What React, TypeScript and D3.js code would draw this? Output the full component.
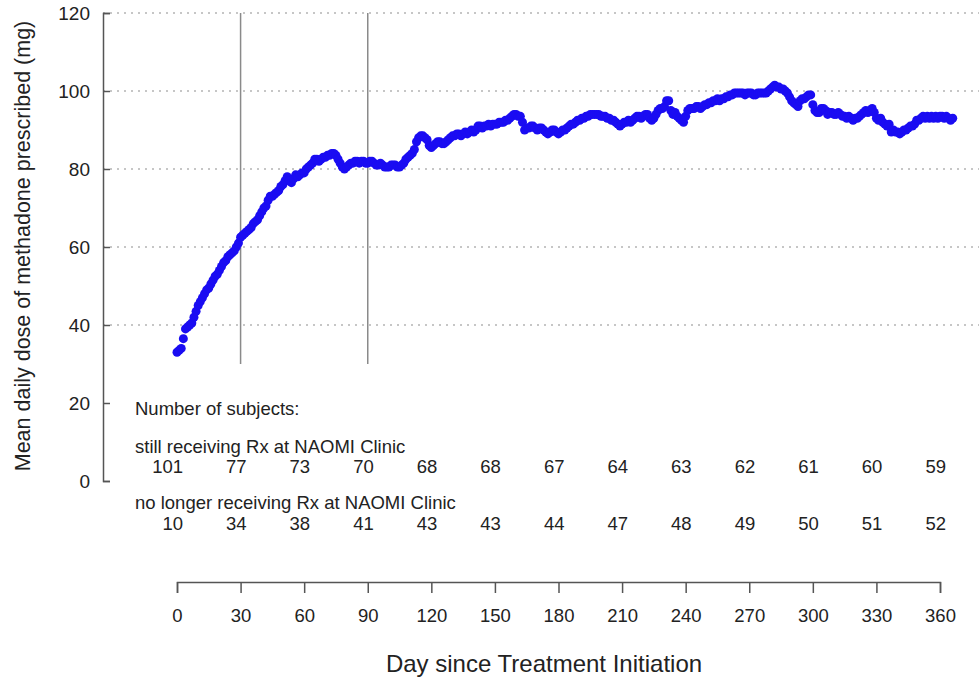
import React, { useEffect, useRef } from "react";
import * as d3 from "d3";

// mean daily methadone dose (mg), one value per day from day 0
const meanDose = [
  33, 33.5, 34, 36.5, 39, 39.5, 40, 40.5, 42, 43.5,
  45, 46, 47, 48, 49, 49.5, 50.5, 51.5, 52.5, 53,
  54, 55, 56, 56.5, 57.5, 58, 58.5, 59, 60, 61,
  62.5, 63, 63.5, 64, 64.5, 65, 66, 66.5, 67, 68,
  69, 70, 70.5, 72, 73, 73, 73.5, 74, 74.5, 75.5,
  76, 77, 78, 77, 76.5, 77.5, 78.5, 78, 78.5, 79,
  79, 80, 80.5, 81, 81.5, 82.5, 82.5, 82, 82.5, 83,
  83, 83.5, 83.5, 84, 84, 83.5, 82.5, 81.5, 80.5, 80,
  80.5, 81, 81.5, 81.5, 82, 82, 81.5, 82, 82, 81.5,
  81.5, 82, 82, 81.5, 81, 81, 81.5, 81, 80.5, 80.5,
  80.5, 81, 81, 81, 80.5, 80.5, 81, 81.5, 82.5, 83,
  83.5, 84, 85, 87, 88, 88.5, 88.5, 88, 87.5, 86,
  85.5, 86, 86.5, 87, 87, 86.5, 86.5, 87, 87.5, 88,
  88.5, 88.5, 89, 89, 88.5, 89, 89.5, 89, 89.5, 90,
  89.5, 90, 91, 91, 90.5, 91, 91, 91.5, 91, 91.5,
  91.5, 91.5, 92, 92, 92, 92.5, 92.5, 93, 93.5, 94,
  94, 93.5, 93.5, 92, 90, 90.5, 90.5, 91, 91, 90.5,
  90, 90.5, 90.5, 90, 89.5, 89, 89.5, 90, 90, 89.5,
  89, 89.5, 90, 90, 90.5, 91, 91.5, 91.5, 92, 92.5,
  92.5, 93, 93, 93.5, 93.5, 94, 94, 94, 94, 94,
  93.5, 93.5, 93.5, 93, 93, 92.5, 92.5, 92, 91.5, 91,
  91.5, 92, 92, 92.5, 92, 92.5, 93, 93.5, 93.5, 93,
  93.5, 94, 94, 93, 92.5, 93, 94, 95, 95.5, 95.5,
  96, 97.5, 97.5, 95, 94, 94.5, 93.5, 93, 92.5, 92,
  93.5, 95, 95.5, 95.5, 95.5, 96, 96, 95.5, 96, 96.5,
  96.5, 97, 97, 97.5, 97.5, 98, 97.5, 98, 98, 98.5,
  98.5, 99, 99, 99.5, 99.5, 99.5, 99.5, 99.5, 99, 99.5,
  99.5, 99.5, 99, 99, 99.5, 99.5, 99.5, 99.5, 99.5, 100,
  100.5, 101, 101.5, 101, 101, 100.5, 100.5, 100, 99.5, 98.5,
  97.5, 97, 96.5, 96, 97.5, 98, 98, 98.5, 99, 99,
  96.5, 95, 94.5, 94.5, 95.5, 95.5, 95, 94, 94.5, 94.5,
  94, 94, 94.5, 94, 93.5, 93.5, 93, 93.5, 93, 92.5,
  93, 93, 93.5, 94, 94.5, 95, 94.5, 95, 95.5, 94.5,
  93, 92.5, 93, 92, 91.5, 91, 91.5, 89.5, 90, 89.5,
  89.5, 89, 89.5, 90, 90, 90.5, 91, 91, 91.5, 92.5,
  92.5, 93, 93.5, 93, 93.5, 93, 93.5, 93, 93.5, 93,
  93.5, 93.5, 93, 93.5, 93, 92.5, 93,
];

const dayTicks = [0, 30, 60, 90, 120, 150, 180, 210, 240, 270, 300, 330, 360];
const doseTicks = [0, 20, 40, 60, 80, 100, 120];
const gridLevels = [40, 60, 80, 100, 120];
const markerDays = [30, 90];
const stillReceiving = [101, 77, 73, 70, 68, 68, 67, 64, 63, 62, 61, 60, 59];
const noLonger = [10, 34, 38, 41, 43, 43, 44, 47, 48, 49, 50, 51, 52];

const W = 979;
const H = 681;
const FONT = "'Liberation Sans', Arial, Helvetica, sans-serif";

export default function App() {
  const ref = useRef<SVGSVGElement>(null);

  useEffect(() => {
    const svg = d3.select(ref.current);
    svg.selectAll("*").remove();

    const x = d3.scaleLinear().domain([0, 360]).range([177, 940]);
    const y = d3.scaleLinear().domain([0, 120]).range([481, 13]);

    // dotted grid
    svg.append("g")
      .selectAll("line")
      .data(gridLevels)
      .enter()
      .append("line")
      .attr("x1", 103)
      .attr("x2", W)
      .attr("y1", d => y(d))
      .attr("y2", d => y(d))
      .attr("stroke", "#b4b4b4")
      .attr("stroke-width", 1.3)
      .attr("stroke-dasharray", "2,5");

    // day 30 / 90 markers
    svg.append("g")
      .selectAll("line")
      .data(markerDays)
      .enter()
      .append("line")
      .attr("x1", d => x(d))
      .attr("x2", d => x(d))
      .attr("y1", y(30))
      .attr("y2", y(120))
      .attr("stroke", "#8a8a8a")
      .attr("stroke-width", 1.5);

    // y axis, ticks pointing inward
    const yAxis = svg.append("g")
      .attr("transform", "translate(103,0)")
      .call(d3.axisLeft(y).tickValues(doseTicks).tickSizeInner(-7).tickSizeOuter(-7).tickPadding(13));
    yAxis.selectAll("path, line").attr("stroke", "#555").attr("stroke-width", 1.5);
    yAxis.selectAll("text")
      .attr("font-size", 19)
      .attr("font-family", FONT)
      .attr("fill", "#222");

    // x axis sits under the subject table
    const xAxis = svg.append("g")
      .attr("transform", "translate(0,582)")
      .call(d3.axisBottom(x).tickValues(dayTicks).tickSizeInner(11).tickSizeOuter(11).tickPadding(16));
    xAxis.selectAll("path, line").attr("stroke", "#555").attr("stroke-width", 1.5);
    xAxis.selectAll("text")
      .attr("font-size", 18.5)
      .attr("font-family", FONT)
      .attr("fill", "#222");

    // dose points
    svg.append("g")
      .selectAll("circle")
      .data(meanDose)
      .enter()
      .append("circle")
      .attr("cx", (d, i) => x(i))
      .attr("cy", d => y(d))
      .attr("r", 4.5)
      .attr("fill", "#1a0cf2");

    // subject table
    const table = svg.append("g")
      .attr("font-family", FONT)
      .attr("font-size", 18.5)
      .attr("fill", "#222");

    table.append("text").attr("x", 135).attr("y", 415).text("Number of subjects:");
    table.append("text").attr("x", 135).attr("y", 453).text("still receiving Rx at NAOMI Clinic");
    table.append("text").attr("x", 135).attr("y", 509).text("no longer receiving Rx at NAOMI Clinic");

    table.append("g")
      .selectAll("text")
      .data(stillReceiving)
      .enter()
      .append("text")
      .attr("x", (d, i) => x(dayTicks[i]) + 6)
      .attr("y", 473)
      .attr("text-anchor", "end")
      .text(d => d);

    table.append("g")
      .selectAll("text")
      .data(noLonger)
      .enter()
      .append("text")
      .attr("x", (d, i) => x(dayTicks[i]) + 6)
      .attr("y", 530)
      .attr("text-anchor", "end")
      .text(d => d);

    // axis titles
    svg.append("text")
      .attr("x", 544)
      .attr("y", 672)
      .attr("text-anchor", "middle")
      .attr("font-family", FONT)
      .attr("font-size", 24)
      .attr("fill", "#222")
      .text("Day since Treatment Initiation");

    svg.append("text")
      .attr("transform", "translate(30,246) rotate(-90)")
      .attr("text-anchor", "middle")
      .attr("font-family", FONT)
      .attr("font-size", 21.5)
      .attr("fill", "#222")
      .text("Mean daily dose of methadone prescribed (mg)");
  }, []);

  return (
    <svg
      ref={ref}
      width={W}
      height={H}
      style={{ position: "absolute", left: 0, top: 0, background: "#fff" }}
    />
  );
}
